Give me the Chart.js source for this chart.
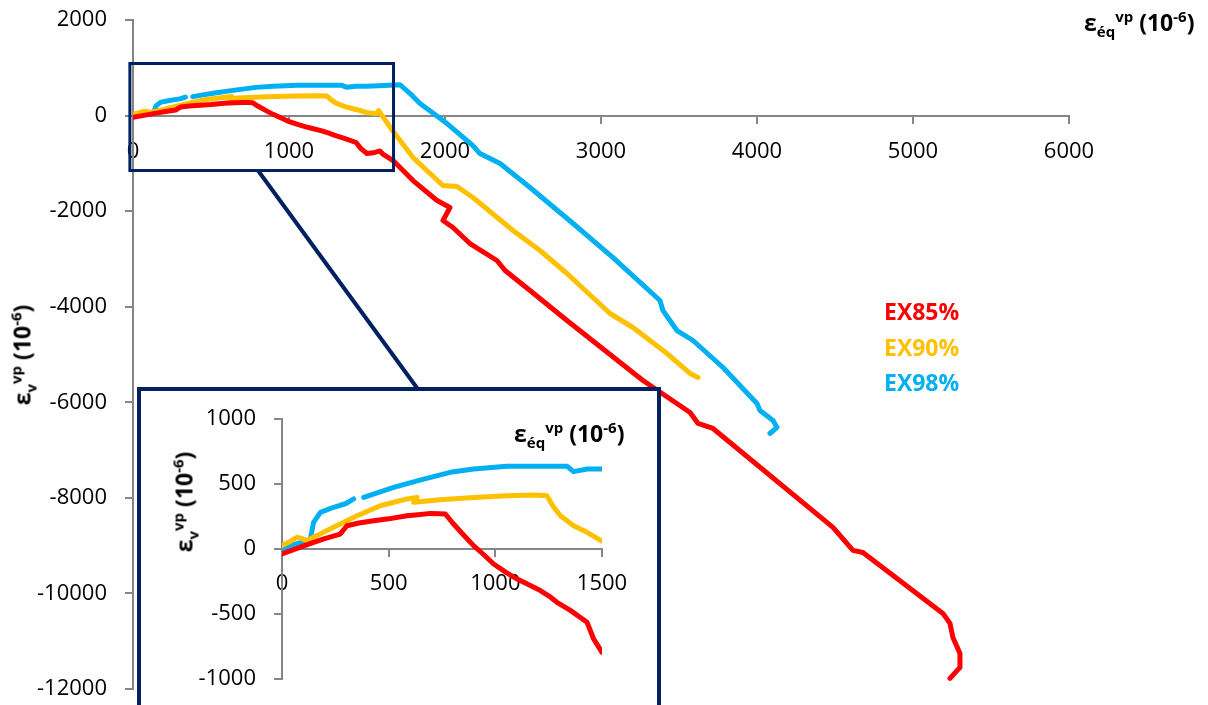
<!DOCTYPE html>
<html>
<head>
<meta charset="utf-8">
<script src="https://cdn.jsdelivr.net/npm/chart.js@4.4.1/dist/chart.umd.min.js"></script>
<style>
  body { margin: 0; background: #fff; font-family: "Open Sans", sans-serif; }
  #wrap { position: relative; width: 1208px; height: 705px; overflow: hidden; }
  #main { position: absolute; left: 0; top: 0; }
  #insetBox { position: absolute; left: 137px; top: 387px; width: 516px; height: 340px;
              border: 4px solid #002060; background: #fff; }
  #inset { position: absolute; left: 0; top: 0; }
  .ttl { position: absolute; font-weight: bold; color: #000; white-space: nowrap; font-size: 23px; line-height: 1; }
  .ttl sub, .ttl sup { font-size: 15px; line-height: 0; }
  .rot { transform: translate(-50%, -50%) rotate(-90deg); }
</style>
</head>
<body>
<div id="wrap">
  <canvas id="main" width="1208" height="705"></canvas>
  <div id="insetBox"><canvas id="inset" width="516" height="330"></canvas></div>
  <div class="ttl" style="left:1084px; top:11px;">ε<sub>éq</sub><sup>vp</sup> (10<sup>-6</sup>)</div>
  <div class="ttl rot" style="left:22px; top:355px;">ε<sub>v</sub><sup>vp</sup> (10<sup>-6</sup>)</div>
  <div class="ttl" style="left:514px; top:422px;">ε<sub>éq</sub><sup>vp</sup> (10<sup>-6</sup>)</div>
  <div class="ttl rot" style="left:184px; top:502px;">ε<sub>v</sub><sup>vp</sup> (10<sup>-6</sup>)</div>
</div>
<script>
// series labels and colours
const labels = ['EX85%', 'EX90%', 'EX98%'];
const colors = ['#FF0000', '#FFC000', '#00B0F0'];

// EX85% (x = eps_eq, y = eps_v, both 10^-6)
const ex85X = [0, 70, 148, 200, 273, 290, 305, 360, 430, 500, 586, 650, 695, 740, 766, 800, 850, 898, 950, 992,
  1050, 1102, 1150, 1211, 1250, 1289, 1350, 1430, 1461, 1500, 1540, 1583, 1600, 1667, 1795, 1949, 2032, 1987, 2051,
  2160, 2333, 2385, 2545, 2782, 3269, 3571, 3622, 3718, 4487, 4615, 4679, 5192, 5237, 5256, 5301, 5301, 5237];
const ex85Y = [-38, 5, 51, 80, 115, 150, 179, 200, 218, 232, 256, 266, 274, 272, 269, 200, 110, 26, -50, -115,
  -180, -231, -270, -320, -360, -410, -470, -564, -692, -795, -780, -740, -800, -941, -1360, -1778, -1925, -2197, -2343,
  -2678, -3033, -3243, -3661, -4289, -5544, -6213, -6443, -6548, -8619, -9100, -9142, -10418, -10628, -10921, -11255, -11548, -11778];

// EX90%
const ex90X = [0, 40, 70, 95, 117, 140, 164, 220, 273, 352, 461, 586, 633, 617, 680, 742, 898, 1055, 1180, 1242,
  1270, 1305, 1367, 1430, 1500, 1564, 1575, 1590, 1667, 1795, 1987, 2077, 2179, 2436, 2609, 2782, 3058, 3205, 3423, 3571, 3622];
const ex90Y = [26, 60, 90, 80, 64, 85, 103, 150, 192, 256, 333, 385, 397, 359, 370, 379, 397, 410, 415, 410,
  330, 256, 179, 128, 60, 40, 105, 30, -330, -879, -1464, -1485, -1715, -2406, -2824, -3305, -4142, -4435, -4979, -5397, -5481];

// EX98% (null = small gap in the record)
const ex98X = [0, 60, 117, 133, 148, 180, 242, 300, 336, 360, 383, 523, 664, 789, 898, 1055, 1211, 1336, 1367, 1430,
  1500, 1712, 1776, 1840, 2013, 2179, 2224, 2353, 2545, 2821, 3077, 3378, 3397, 3442, 3487, 3590, 3782, 4000, 4019, 4103, 4128, 4083];
const ex98Y = [0, 35, 64, 77, 205, 282, 321, 350, 385, null, 397, 474, 538, 590, 615, 636, 636, 636, 595, 615,
  615, 645, 460, 251, -167, -628, -795, -1004, -1506, -2259, -2971, -3870, -4079, -4289, -4498, -4707, -5272, -6025, -6172, -6381, -6527, -6653];

// axis ranges and ticks
const mainX = { min: 0, max: 6000, step: 1000 };
const mainY = { min: -12000, max: 2000, step: 2000 };
const insetX = { min: 0, max: 1500, step: 500 };
const insetY = { min: -1000, max: 1000, step: 500 };
// zoom window drawn on the main chart (data units)
const zoomWin = { x0: -20, x1: 1670, y0: 1090, y1: -1150 };

function pts(xs, ys) {
  return xs.map((x, i) => ({ x: x, y: ys[i] }));
}

function makeDatasets(width) {
  const series = [[ex85X, ex85Y], [ex90X, ex90Y], [ex98X, ex98Y]];
  return series.map((s, i) => ({
    label: labels[i],
    data: pts(s[0], s[1]),
    borderColor: colors[i],
    backgroundColor: colors[i],
    borderWidth: width,
    pointRadius: 0,
    showLine: true,
    spanGaps: false,
    borderCapStyle: 'round',
    borderJoinStyle: 'round',
    tension: 0
  }));
}

// fixed-size axis so the plot area lands where it should
function axis(r, pad, tickLen, pos, fixed) {
  return {
    type: 'linear',
    position: pos,
    min: r.min, max: r.max,
    ticks: { stepSize: r.step, color: '#000', font: { family: 'Open Sans', size: 22 }, padding: pad,
             callback: v => String(v) },
    grid: { drawOnChartArea: false, tickLength: tickLen, color: '#868686', tickColor: '#868686', lineWidth: 2 },
    border: { color: '#868686', width: 2 },
    afterFit(scale) {
      if (scale.isHorizontal()) scale.height = fixed; else scale.width = fixed;
      scale.paddingTop = 0; scale.paddingBottom = 0;
      scale.paddingLeft = 0; scale.paddingRight = 0;
    }
  };
}

// legend text and zoom box on the main chart
const mainExtras = {
  id: 'mainExtras',
  afterDatasetsDraw(chart) {
    const ctx = chart.ctx, xs = chart.scales.x, ys = chart.scales.y;
    ctx.save();
    const l = xs.getPixelForValue(zoomWin.x0), r = xs.getPixelForValue(zoomWin.x1);
    const t = ys.getPixelForValue(zoomWin.y0), b = ys.getPixelForValue(zoomWin.y1);
    ctx.strokeStyle = '#002060';
    ctx.lineWidth = 3;
    ctx.strokeRect(l, t, r - l, b - t);
    ctx.lineWidth = 4;
    ctx.beginPath();
    ctx.moveTo(l + (r - l) * 0.486, b);
    ctx.lineTo(420, 392);
    ctx.stroke();

    ctx.font = 'bold 23px "Open Sans"';
    ctx.textBaseline = 'middle';
    ctx.textAlign = 'left';
    const ly = [313, 349, 384];
    chart.data.datasets.forEach((d, i) => {
      ctx.fillStyle = d.borderColor;
      ctx.fillText(d.label, 884, ly[i]);
    });
    ctx.restore();
  }
};

new Chart(document.getElementById('main'), {
  type: 'scatter',
  data: { datasets: makeDatasets(5) },
  options: {
    responsive: false,
    animation: false,
    layout: { padding: { left: 0, right: 139, top: 20, bottom: 16 } },
    plugins: { legend: { display: false }, tooltip: { enabled: false } },
    scales: {
      x: axis(mainX, 16, 7, { y: 0 }, 0),
      y: axis(mainY, 18, 8, 'left', 133)
    }
  },
  plugins: [mainExtras]
});

new Chart(document.getElementById('inset'), {
  type: 'scatter',
  data: { datasets: makeDatasets(5) },
  options: {
    responsive: false,
    animation: false,
    layout: { padding: { left: 0, right: 55, top: 28, bottom: 42 } },
    plugins: { legend: { display: false }, tooltip: { enabled: false } },
    scales: {
      x: axis(insetX, 15, 7, { y: 0 }, 0),
      y: axis(insetY, 18, 8, 'left', 141)
    }
  }
});
</script>
</body>
</html>
